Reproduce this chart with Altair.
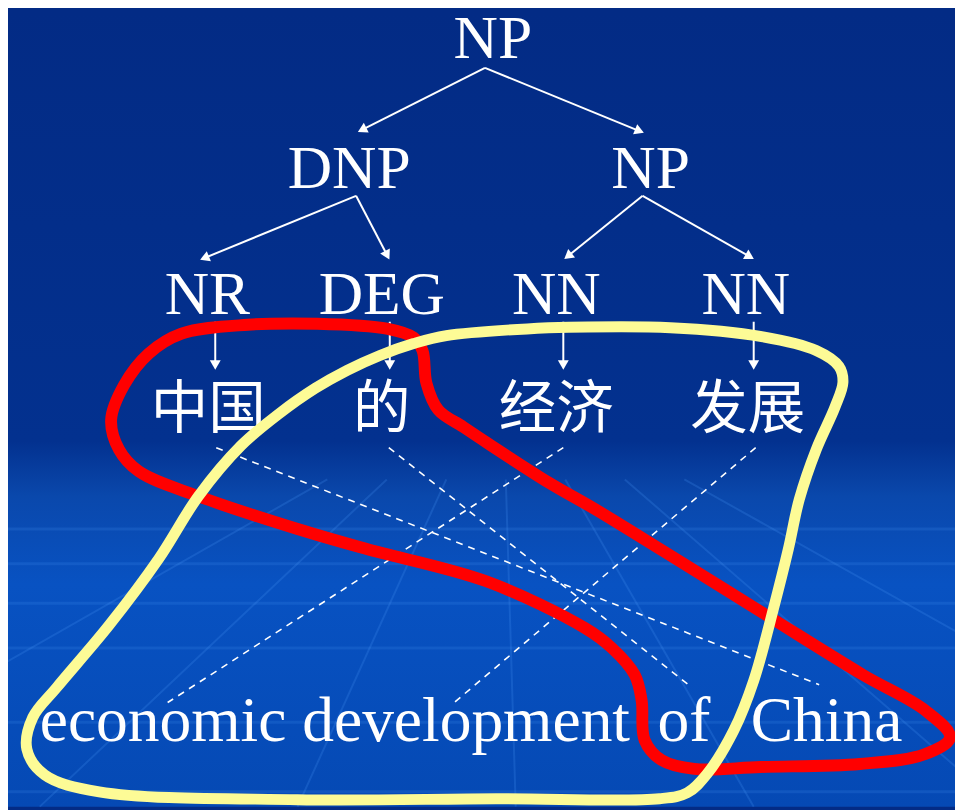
import math
import altair as alt
import pandas as pd

# ---------------- data ----------------
node_labels = ["NP", "DNP", "NP", "NR", "DEG", "NN", "NN"]
node_x = [497, 352, 656, 209, 385, 561, 752]
node_y = [55, 186, 186, 313, 313, 313, 313]

zh_words = ["中国", "的", "经济", "发展"]
zh_x = [210, 385, 561, 754]
zh_y = [428, 428, 428, 428]

en_words = ["economic development", "of", "China"]
en_x = [40, 663, 757]
en_y = [744, 744, 744]

edge_x1 = [489, 489, 359, 359, 648, 648, 217, 393, 568, 760]
edge_y1 = [65, 65, 194, 194, 194, 194, 321, 321, 321, 321]
edge_x2 = [362, 648, 203, 392, 570, 759, 217, 393, 568, 760]
edge_y2 = [129, 130, 258, 257, 257, 257, 368, 368, 368, 368]

dash_x1 = [218, 392, 568, 762]
dash_y1 = [448, 448, 448, 448]
dash_x2 = [826, 694, 169, 458]
dash_y2 = [687, 687, 705, 705]

red_x = [320, 390, 417, 426, 430, 442, 467, 491, 553, 600, 670, 773, 870, 933, 958,
         933, 867, 767, 700, 667, 650, 647, 640, 617, 590, 491, 369, 300, 200, 140, 120, 112, 125, 150, 183, 250, 320]
red_y = [323, 328, 337, 350, 383, 410, 427, 443, 483, 510, 553, 617, 677, 713, 740,
         757, 767, 770, 772, 763, 743, 703, 677, 650, 630, 583, 550, 530, 497, 472, 450, 420, 385, 353, 333, 324, 323]

yel_x = [553, 676, 768, 823, 846, 850, 842, 823, 806, 795, 780, 760, 740, 713, 693, 665,
         500, 300, 100, 45, 27, 33, 57, 110, 160, 200, 243, 281, 318, 350, 383, 417, 450, 553]
yel_y = [327, 327, 336, 350, 366, 382, 407, 450, 500, 550, 610, 683, 733, 777, 796, 802,
         802, 803, 795, 778, 752, 720, 690, 627, 560, 497, 446, 414, 388, 370, 355, 343, 335, 327]

# background perspective grid (faint)
grid_x1 = [330, 390, 450, 510, 570, 630, 690]
grid_y1 = [480, 480, 480, 480, 480, 480, 480]
grid_x2 = [-250, 40, 300, 520, 760, 1010, 1280]
grid_y2 = [810, 810, 810, 810, 810, 810, 810]
hline_y = [530, 565, 605, 650, 725, 795]

# ---------------- tables ----------------
nodes = pd.DataFrame({"label": node_labels, "x": node_x, "y": node_y})
zh = pd.DataFrame({"label": zh_words, "x": zh_x, "y": zh_y})
en = pd.DataFrame({"label": en_words, "x": en_x, "y": en_y})
edges = pd.DataFrame({"x": edge_x1, "y": edge_y1, "x2": edge_x2, "y2": edge_y2})
dx = edges["x2"] - edges["x"]
dy = edges["y2"] - edges["y"]
L = (dx ** 2 + dy ** 2) ** 0.5
heads = pd.DataFrame({
    "x": edges["x2"] - dx / L * 5,
    "y": edges["y2"] - dy / L * 5,
    "angle": [(math.degrees(math.atan2(a, -b)) + 360) % 360 for a, b in zip(dx, dy)],
})
edges_body = pd.DataFrame({"x": edges["x"], "y": edges["y"],
                           "x2": edges["x2"] - dx / L * 6, "y2": edges["y2"] - dy / L * 6})
dashes = pd.DataFrame({"x": dash_x1, "y": dash_y1, "x2": dash_x2, "y2": dash_y2})
red = pd.DataFrame({"x": red_x, "y": red_y, "i": range(len(red_x))})
yel = pd.DataFrame({"x": yel_x, "y": yel_y, "i": range(len(yel_x))})
bg = pd.DataFrame({"x": [8], "x2": [963], "y": [8], "y2": [810]})
grid = pd.DataFrame({"x": grid_x1, "y": grid_y1, "x2": grid_x2, "y2": grid_y2})
hl = pd.DataFrame({"y": hline_y})

# ---------------- chart ----------------
X = alt.X("x:Q", scale=alt.Scale(domain=[8, 963], nice=False, zero=False), axis=None)
Y = alt.Y("y:Q", scale=alt.Scale(domain=[8, 810], reverse=True, nice=False, zero=False), axis=None)

gradient = alt.Gradient(
    gradient="linear", x1=0, y1=0, x2=0, y2=1,
    stops=[
        alt.GradientStop(offset=0.0, color="#032b85"),
        alt.GradientStop(offset=0.54, color="#03318f"),
        alt.GradientStop(offset=0.61, color="#0a48ac"),
        alt.GradientStop(offset=0.72, color="#0852c2"),
        alt.GradientStop(offset=1.0, color="#0549b4"),
    ],
)

background = alt.Chart(bg).mark_rect(color=gradient).encode(
    x=X, x2="x2:Q", y=Y, y2="y2:Q")

grid_lines = alt.Chart(grid).mark_rule(color="#4a96f5", strokeWidth=2, opacity=0.22).encode(
    x=X, y=Y, x2="x2:Q", y2="y2:Q")
h_lines = alt.Chart(hl).mark_rule(color="#4a96f5", strokeWidth=3, opacity=0.18).encode(
    y=Y, x=alt.value(0), x2=alt.value(955))

tree_lines = alt.Chart(edges_body).mark_rule(color="white", strokeWidth=2).encode(
    x=X, y=Y, x2="x2:Q", y2="y2:Q")
tree_heads = alt.Chart(heads).mark_point(
    shape="triangle", filled=True, color="white", size=120, opacity=1, strokeWidth=0
).encode(x=X, y=Y, angle=alt.Angle("angle:Q", scale=None))

dash_lines = alt.Chart(dashes).mark_rule(
    color="white", strokeWidth=1.6, strokeDash=[7, 6]).encode(
    x=X, y=Y, x2="x2:Q", y2="y2:Q")

node_text = alt.Chart(nodes).mark_text(
    font="Liberation Serif", fontSize=62, color="white", align="center", baseline="alphabetic"
).encode(x=X, y=Y, text="label:N")

zh_text = alt.Chart(zh).mark_text(
    font="Noto Sans CJK SC", fontSize=58, color="white", align="center", baseline="alphabetic"
).encode(x=X, y=Y, text="label:N")

en_text = alt.Chart(en).mark_text(
    font="Liberation Serif", fontSize=64, color="white", align="left", baseline="alphabetic"
).encode(x=X, y=Y, text="label:N")

red_curve = alt.Chart(red).mark_line(
    color="#ff0000", strokeWidth=12, interpolate="catmull-rom", strokeCap="round",
    strokeJoin="round").encode(x=X, y=Y, order="i:Q")
yel_curve = alt.Chart(yel).mark_line(
    color="#fdfb96", strokeWidth=11, interpolate="catmull-rom", strokeCap="round",
    strokeJoin="round").encode(x=X, y=Y, order="i:Q")

chart = alt.layer(
    background, grid_lines, h_lines, tree_lines, tree_heads, dash_lines,
    node_text, zh_text, en_text, red_curve, yel_curve
).properties(
    width=955, height=802, padding=0, autosize=alt.AutoSizeParams(type="none"),
    background="#032b85",
).configure_view(stroke=None)

chart.save("out.html", embed_options={"renderer": "svg", "actions": False})
